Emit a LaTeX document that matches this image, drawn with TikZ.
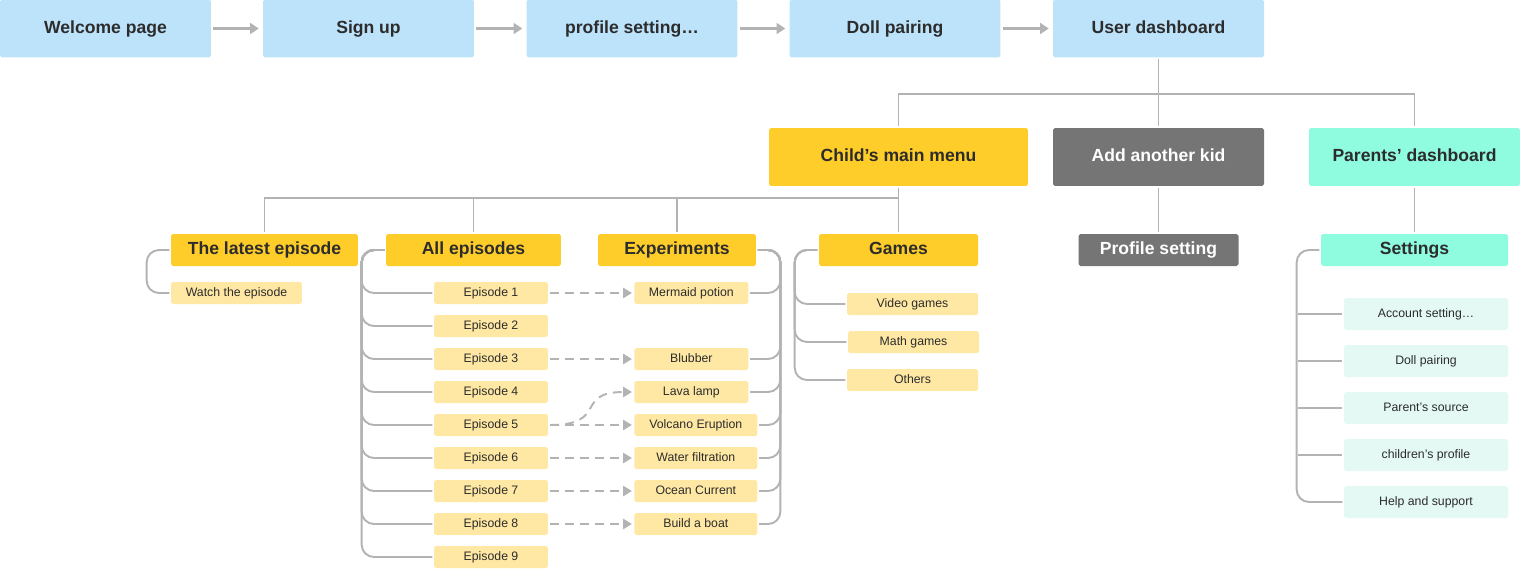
\documentclass[tikz,border=0pt]{standalone}
\usepackage{fontspec}
\setmainfont{Liberation Sans}
\usetikzlibrary{arrows.meta}

\definecolor{pageblue}{HTML}{BDE3FB}
\definecolor{kidyellow}{HTML}{FFCD29}
\definecolor{leafyellow}{HTML}{FFE8A3}
\definecolor{boxgray}{HTML}{757575}
\definecolor{mint}{HTML}{8FFCE0}
\definecolor{palemint}{HTML}{E4F9F3}
\definecolor{linegray}{HTML}{B3B3B3}
\definecolor{ink}{HTML}{2C2C2C}

\begin{document}
\begin{tikzpicture}[x=0.02cm, y=-0.02cm,
    box/.style={inner sep=0pt, rounded corners=1pt, text=ink},
    bold/.style={font=\bfseries\fontsize{10}{12}\selectfont, text height=7.3pt, text depth=2.1pt},
    small/.style={font=\fontsize{7}{8}\selectfont, text height=5.2pt, text depth=1.5pt},
    page/.style={box, bold, fill=pageblue, minimum width=4.22cm, minimum height=1.16cm},
    menu/.style={box, bold, minimum height=1.16cm},
    head/.style={box, bold, minimum height=0.64cm},
    leaf/.style={box, small, fill=leafyellow, minimum height=0.44cm},
    tree/.style={draw=linegray, line width=1.1pt, shorten <=0.8pt, shorten >=0.8pt},
    bracket/.style={tree, rounded corners=7pt},
    flow/.style={draw=linegray, line width=1.15pt, shorten <=1.2pt, shorten >=2.2pt,
                 -{Triangle[length=5pt,width=6.2pt]}},
    cross/.style={draw=linegray, line width=1.1pt, dash pattern=on 5pt off 3.5pt,
                  shorten <=1.2pt, shorten >=1.2pt, -{Triangle[length=5pt,width=5.8pt]}}]

    % Keep the page the size of the reference
    \useasboundingbox (0,0) rectangle (1520,568);

    % The sign-up flow along the top
    \node[page] (welcome) at (105.5,28.5) {Welcome page};
    \node[page] (signup)  at (368.5,28.5) {Sign up};
    \node[page] (profile) at (632,28.5)   {profile setting…};
    \node[page] (doll)    at (895,28.5)   {Doll pairing};
    \node[page] (user)    at (1158.5,28.5) {User dashboard};

    \draw[flow] (welcome) -- (signup);
    \draw[flow] (signup) -- (profile);
    \draw[flow] (profile) -- (doll);
    \draw[flow] (doll) -- (user);

    % The three menus under the dashboard
    \node[menu, fill=kidyellow, minimum width=5.18cm] (child) at (898.5,157) {Child’s main menu};
    \node[menu, fill=boxgray, text=white, minimum width=4.22cm] (kid) at (1158.5,157) {Add another kid};
    \node[menu, fill=mint, minimum width=4.22cm] (parents) at (1414.5,157) {Parents’ dashboard};

    \draw[tree] (user.south) -- ++(0,36) -| (child.north);
    \draw[tree] (user.south) -- ++(0,36) -| (parents.north);
    \draw[tree] (user) -- (kid);

    % Sections of each menu
    \node[head, fill=kidyellow, minimum width=3.74cm] (latest) at (264.5,250) {The latest episode};
    \node[head, fill=kidyellow, minimum width=3.5cm]  (allep)  at (473.5,250) {All episodes};
    \node[head, fill=kidyellow, minimum width=3.16cm] (exper)  at (677,250)   {Experiments};
    \node[head, fill=kidyellow, minimum width=3.18cm] (games)  at (898.5,250) {Games};
    \node[head, fill=boxgray, text=white, minimum width=3.2cm] (kidset) at (1158.5,250) {Profile setting};
    \node[head, fill=mint, minimum width=3.74cm] (settings) at (1414.5,250) {Settings};

    \draw[tree] (child.south) -- ++(0,12) -| (latest.north);
    \draw[tree] (child.south) -- ++(0,12) -| (allep.north);
    \draw[tree] (child.south) -- ++(0,12) -| (exper.north);
    \draw[tree] (child) -- (games);
    \draw[tree] (kid) -- (kidset);
    \draw[tree] (parents) -- (settings);

    % The latest episode
    \node[leaf, minimum width=2.62cm] (watch) at (236.5,293) {Watch the episode};
    \draw[bracket] (latest.west) -- ++(-24,0) |- (watch.west);

    % All episodes
    \foreach \i in {1,...,9} {
        \node[leaf, minimum width=2.28cm] (ep\i) at (491,260+33*\i) {Episode \i};
        \draw[bracket] (allep.west) -- ++(-24,0) |- (ep\i.west);
    }

    % Experiments, hung from the right
    \foreach \nm/\y/\w/\txt in {mermaid/293/2.28/Mermaid potion, blubber/359/2.28/Blubber,
                               lava/392/2.28/Lava lamp, volcano/425/2.46/Volcano Eruption,
                               water/458/2.46/Water filtration, ocean/491/2.46/Ocean Current,
                               boat/524/2.46/Build a boat} {
        \node[leaf, anchor=west, minimum width=\w cm] (\nm) at (634,\y) {\txt};
        \draw[bracket] (exper.east) -- ++(24,0) |- (\nm.east);
    }

    % Which episode goes with which experiment
    \draw[cross] (ep1) -- (mermaid);
    \draw[cross] (ep3) -- (blubber);
    \draw[cross] (ep5.east) .. controls +(60,0) and +(-60,0) .. (lava.west);
    \draw[cross] (ep5) -- (volcano);
    \draw[cross] (ep6) -- (water);
    \draw[cross] (ep7) -- (ocean);
    \draw[cross] (ep8) -- (boat);

    % Games
    \node[leaf, minimum width=2.62cm] (video) at (912.5,304) {Video games};
    \node[leaf, minimum width=2.62cm] (math)  at (913.5,342) {Math games};
    \node[leaf, minimum width=2.62cm] (other) at (912.5,380) {Others};
    \draw[bracket] (games.west) -- ++(-24,0) |- (video.west);
    \draw[bracket] (games.west) -- ++(-24,0) |- (math.west);
    \draw[bracket] (games.west) -- ++(-24,0) |- (other.west);

    % Parents' settings
    \node[box, small, fill=palemint, minimum width=3.28cm, minimum height=0.64cm] (account) at (1426,314) {Account setting…};
    \node[box, small, fill=palemint, minimum width=3.28cm, minimum height=0.64cm] (pairing) at (1426,361) {Doll pairing};
    \node[box, small, fill=palemint, minimum width=3.28cm, minimum height=0.64cm] (source)  at (1426,408) {Parent’s source};
    \node[box, small, fill=palemint, minimum width=3.28cm, minimum height=0.64cm] (kids)    at (1426,455) {children’s profile};
    \node[box, small, fill=palemint, minimum width=3.28cm, minimum height=0.64cm] (help)    at (1426,502) {Help and support};
    \coordinate (sbar) at (1297,250);
    \draw[bracket] (settings.west) -- ++(-24,0) |- (help.west);
    \draw[tree] (sbar |- account.west) -- (account.west);
    \draw[tree] (sbar |- pairing.west) -- (pairing.west);
    \draw[tree] (sbar |- source.west) -- (source.west);
    \draw[tree] (sbar |- kids.west) -- (kids.west);
\end{tikzpicture}
\end{document}
